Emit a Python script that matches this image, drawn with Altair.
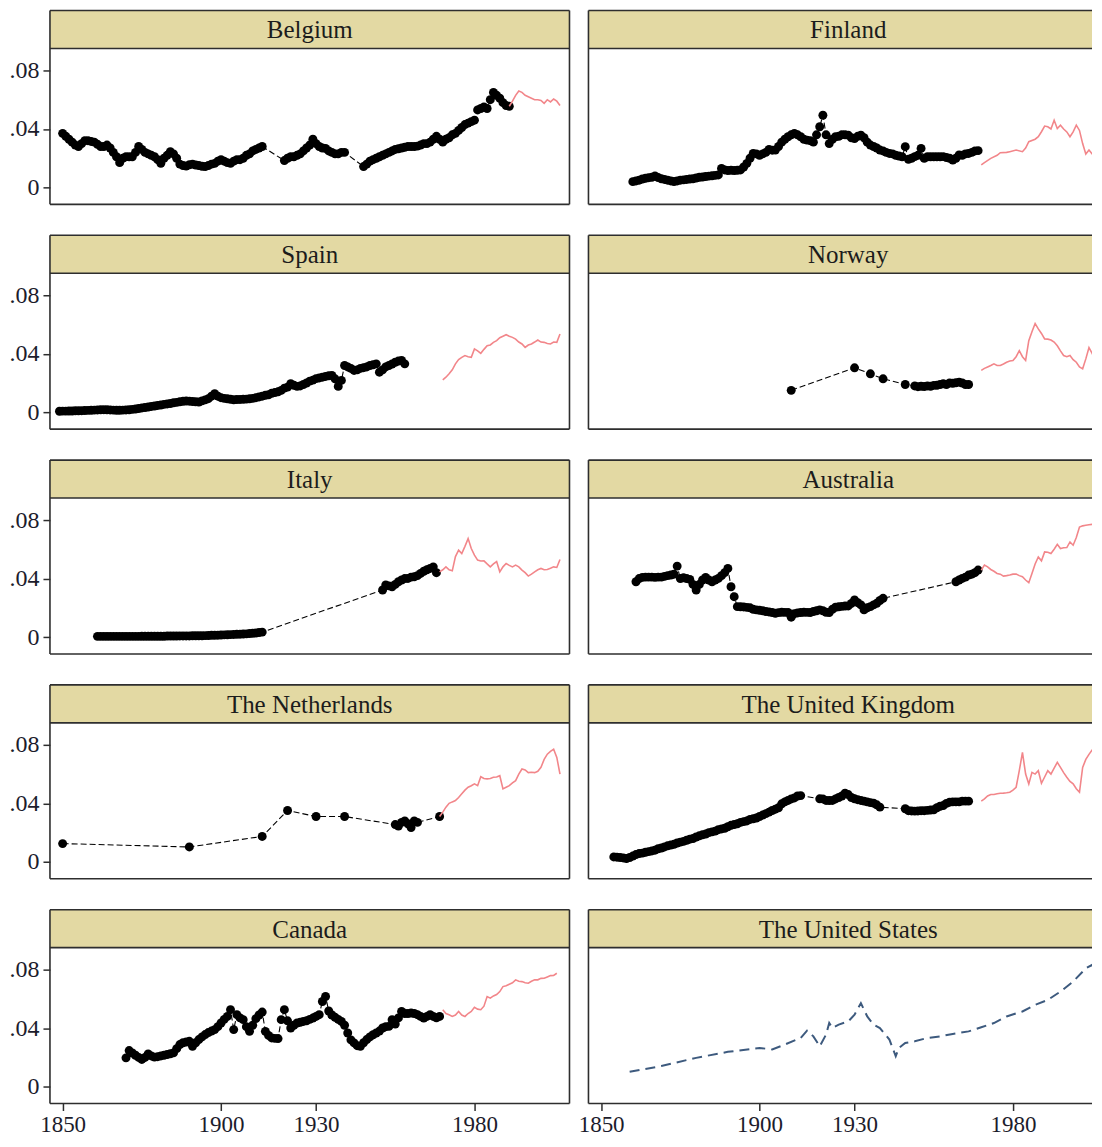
import altair as alt
import pandas as pd

FONT = "Liberation Serif"
W_LEFT = 520
W_RIGHT = 504
PLOT_H = 156
HEAD_H = 38
FULL_H = PLOT_H + HEAD_H
Y_DOMAIN = [-0.0115, 0.095]
X_START = 1846
X_END_LEFT = 2010
X_END_RIGHT = 1846 + 164 * W_RIGHT / W_LEFT
HEAD_FILL = "#e3d9a3"
EDGE = "#2e2e2e"
PINK = "#f2868a"
NAVY = "#3d5a7e"
X_TICKS = [1850, 1900, 1930, 1980]
Y_TICKS = [0, 0.04, 0.08]

# ---------------- data ----------------
belgium_black_years = list(range(1850, 1914)) + list(range(1920, 1940)) + list(range(1945, 1992))
belgium_black_vals = [.037, .035, .033, .031, .029, .028, .030, .032, .032, .0315,
                      .031, .0295, .028, .028, .029, .027, .024, .021, .017, .020,
                      .021, .021, .021, .024, .028, .026, .024, .023, .022, .021,
                      .019, .0165, .020, .022, .0245, .023, .020, .016, .015, .0147,
                      .0155, .016, .0154, .015, .0145, .0143, .015, .016, .0165, .018,
                      .019, .018, .017, .0165, .018, .019, .019, .020, .022, .023,
                      .025, .026, .027, .028,
                      .0184, .020, .021, .021, .022, .023, .025, .027, .029, .033,
                      .030, .028, .027, .0267, .025, .024, .023, .023, .024, .024,
                      .0143, .016, .018, .019, .020, .021, .022, .023, .024, .025,
                      .026, .0265, .027, .0275, .028, .028, .028, .0283, .029, .030,
                      .030, .031, .033, .035, .033, .031, .033, .034, .036, .037,
                      .039, .041, .043, .044, .045, .046, .053, .054, .055, .054,
                      .060, .065, .063, .061, .058, .056, .0555]
belgium_pink_years = list(range(1991, 2008))
belgium_pink_vals = [.0555, .059, .063, .066, .065, .063, .062, .061, .060, .060, .0595, .0575, .060, .0585, .0605, .059, .056]

finland_black_years = list(range(1860, 1970))
finland_black_vals = [.004, .0045, .005, .0058, .0063, .0067, .007, .0079, .0068, .006,
                      .0055, .005, .0045, .0041, .0045, .005, .0052, .0055, .0058, .006,
                      .0065, .007, .0072, .0075, .0078, .008, .0083, .0086, .013, .012,
                      .0116, .0118, .0116, .0118, .012, .014, .0165, .020, .0233, .023,
                      .022, .023, .024, .026, .0255, .0256, .028, .031, .033, .0347,
                      .036, .037, .036, .0347, .033, .0324, .032, .031, .036, .0415,
                      .0494, .036, .030, .033, .0347, .035, .036, .036, .0358, .034,
                      .0335, .035, .0358, .034, .031, .029, .028, .027, .0256, .025,
                      .024, .0233, .023, .022, .0215, .021, .0279, .0193, .020, .0211,
                      .022, .0267, .0199, .021, .021, .021, .021, .021, .0211, .0205,
                      .020, .0188, .020, .0222, .022, .023, .0233, .024, .025, .0252]
finland_pink_years = [1970, 1971, 1973, 1975, 1976, 1978, 1979, 1981, 1983, 1984, 1985, 1987, 1988, 1989, 1990, 1991,
                      1992, 1993, 1994, 1995, 1996, 1997, 1998, 1999, 2000, 2001, 2002, 2003, 2004, 2005, 2006, 2007, 2008]
finland_pink_vals = [.0154, .017, .0199, .022, .0238, .024, .0245, .0256, .0245, .027, .0313, .033, .0347, .0381, .042, .0415,
                     .040, .046, .0403, .0426, .040, .038, .0347, .038, .0426, .039, .030, .0229, .0256, .0229, .027, .032, .034]

spain_black_years = list(range(1849, 1959))
spain_black_vals = [.0007, .0008, .0008, .0009, .0009, .001, .001, .0011, .0012, .0013,
                    .0014, .0015, .0016, .0017, .0018, .0017, .0016, .0015, .0014, .0014,
                    .0015, .0016, .0017, .002, .0022, .0026, .003, .0033, .0036, .004,
                    .0043, .0047, .005, .0054, .0057, .006, .0065, .0068, .0072, .0075,
                    .0077, .0076, .0074, .0072, .007, .0078, .0085, .0093, .011, .0127,
                    .011, .010, .0095, .0092, .0089, .0086, .0087, .0088, .0089, .009,
                    .0092, .0095, .010, .0105, .011, .0116, .012, .013, .0135, .014,
                    .015, .0165, .0172, .0195, .0185, .0177, .018, .019, .020, .0213,
                    .022, .023, .0235, .024, .0245, .025, .0252, .0229, .0177, .0218,
                    .032, .031, .030, .0286, .029, .030, .0305, .031, .032, .0325,
                    .0331, .0274, .029, .031, .032, .033, .0342, .035, .0354, .0331]
spain_pink_years = list(range(1970, 2008))
spain_pink_vals = [.0222, .024, .0263, .029, .0331, .036, .0375, .0388, .038, .0376, .0433, .042, .0403, .043, .0455, .046,
                   .0478, .049, .051, .052, .053, .052, .0512, .050, .048, .0467, .0444, .046, .0467, .048, .0494, .048,
                   .0478, .047, .0467, .048, .0478, .0535]

norway_black_years = [1910, 1930, 1935, 1939, 1946, 1949, 1950, 1951, 1952, 1953, 1954, 1955, 1956, 1957, 1958, 1959,
                      1960, 1961, 1962, 1963, 1964, 1965, 1966]
norway_black_vals = [.015, .0304, .0263, .0229, .019, .018, .0175, .0178, .0176, .018, .0178, .0184, .0185, .019, .0195, .019,
                     .020, .0198, .0202, .0206, .020, .019, .019]
norway_pink_years = list(range(1970, 2009))
norway_pink_vals = [.0286, .030, .031, .032, .0331, .032, .032, .033, .0342, .035, .0354, .038, .0421, .038, .0354, .0489,
                    .055, .0607, .057, .0539, .0501, .050, .0494, .048, .0455, .042, .0388, .038, .0388, .036, .0342, .031,
                    .0297, .0365, .0442, .0403, .0354, .0388, .040]

italy_black_years = list(range(1861, 1914)) + list(range(1951, 1969))
italy_black_vals = [.0005, .0005, .0005, .0005, .0005, .0005, .0005, .0005, .0005, .0005,
                    .0005, .0005, .0005, .0005, .0006, .0006, .0006, .0006, .0006, .0006,
                    .0006, .0006, .0007, .0007, .0007, .0007, .0008, .0008, .0008, .0008,
                    .0009, .0009, .0009, .0009, .001, .0011, .0012, .0012, .0013, .0014,
                    .0015, .0016, .0017, .0018, .0019, .002, .0021, .0022, .0024, .0026,
                    .0028, .0031, .0034,
                    .0322, .0356, .035, .0344, .036, .0378, .039, .040, .0401, .041,
                    .0412, .042, .0435, .045, .046, .0469, .048, .044]
italy_pink_years = list(range(1969, 2008))
italy_pink_vals = [.0446, .046, .048, .046, .0453, .055, .0594, .0571, .062, .0673, .0605, .056, .0526, .052, .0521, .050,
                   .048, .050, .0516, .0446, .048, .0503, .049, .048, .0492, .048, .0458, .044, .0417, .043, .0446, .046,
                   .0469, .046, .0462, .047, .048, .0476, .053]

australia_black_years = list(range(1861, 1940)) + list(range(1962, 1970))
australia_black_vals = [.0378, .040, .0408, .041, .041, .041, .0408, .041, .041, .0415,
                        .042, .0424, .043, .0485, .040, .0405, .040, .0394, .036, .0322,
                        .036, .039, .0408, .039, .0378, .039, .0401, .042, .044, .0469,
                        .0344, .0276, .0208, .0207, .0206, .0203, .020, .019, .0186, .0183,
                        .018, .0175, .0172, .0168, .0163, .0167, .017, .0169, .0168, .0136,
                        .016, .0165, .0168, .017, .0169, .0168, .0175, .018, .0186, .018,
                        .017, .0168, .019, .0204, .0207, .021, .0212, .0213, .023, .0254,
                        .0235, .022, .0186, .020, .0208, .022, .0231, .025, .0265,
                        .0378, .039, .0401, .041, .0424, .043, .044, .0458]
australia_pink_years = list(range(1970, 2008))
australia_pink_vals = [.0458, .0492, .048, .0462, .045, .0435, .043, .0417, .042, .0424, .043, .0431, .042, .0412, .039, .0372,
                       .0435, .050, .0548, .0521, .0582, .058, .0571, .060, .0634, .0605, .061, .0612, .065, .0628, .068, .0752,
                       .076, .0764, .0768, .077, .079, .0793]

netherlands_black_years = [1850, 1890, 1913, 1921, 1930, 1939, 1955, 1956, 1957, 1958, 1959, 1960, 1961, 1962, 1969]
netherlands_black_vals = [.0125, .0102, .0174, .0351, .031, .031, .0255, .0245, .027, .028, .026, .0235, .028, .027, .031]
netherlands_pink_years = list(range(1969, 2008))
netherlands_pink_vals = [.031, .034, .0374, .040, .041, .0419, .044, .0465, .049, .051, .052, .0533, .0521, .0582, .057, .0567,
                         .057, .0578, .058, .0589, .0499, .051, .0521, .054, .0555, .060, .0635, .0628, .061, .0612, .061, .0619,
                         .0646, .070, .0736, .0755, .077, .0714, .060]

uk_black_years = list(range(1854, 1914)) + list(range(1919, 1939)) + list(range(1946, 1967))
uk_black_vals = [.0034, .0032, .003, .0027, .0023, .003, .004, .005, .0057, .006,
                 .0066, .007, .0075, .008, .009, .0095, .0102, .011, .0115, .012,
                 .0129, .0135, .014, .0148, .0155, .016, .017, .0178, .0185, .019,
                 .020, .0205, .021, .022, .0225, .023, .024, .025, .0255, .026,
                 .027, .0275, .028, .029, .0295, .030, .031, .032, .033, .034,
                 .0351, .036, .037, .0397, .041, .042, .043, .0437, .045, .0453,
                 .0431, .043, .042, .0419, .042, .043, .044, .045, .0469, .046,
                 .044, .0431, .0425, .042, .0415, .041, .0405, .0401, .039, .0374,
                 .0363, .035, .0348, .0347, .0348, .035, .035, .0352, .0354, .0356,
                 .037, .038, .0385, .040, .0408, .041, .041, .041, .0415, .0415, .0415]
uk_pink_years = list(range(1970, 2009))
uk_pink_vals = [.0415, .043, .045, .046, .046, .0465, .0469, .047, .0472, .0476, .049, .051, .0623, .0748, .060, .0533,
                .0612, .060, .0623, .0537, .058, .0623, .060, .064, .068, .0646, .061, .0578, .055, .0533, .050, .0476,
                .0646, .070, .0735, .0765, .080, .0827, .0838]

canada_black_years = list(range(1870, 1970))
canada_black_vals = [.0197, .0247, .023, .0215, .020, .0186, .020, .0224, .021, .0202,
                     .0205, .021, .0215, .022, .0225, .0231, .026, .0288, .030, .0305,
                     .031, .0276, .030, .0322, .034, .0356, .037, .038, .039, .041,
                     .0435, .046, .048, .0526, .039, .0492, .047, .0458, .041, .0378,
                     .042, .0465, .049, .051, .0378, .035, .0333, .033, .0329, .0458,
                     .0526, .045, .0401, .042, .0435, .044, .0446, .045, .046, .0469,
                     .048, .0492, .0582, .0616, .0517, .049, .0474, .046, .0446, .042,
                     .0367, .032, .0299, .028, .0276, .030, .0322, .034, .0355, .0367,
                     .038, .0401, .041, .0412, .0458, .0428, .047, .0514, .050, .050,
                     .0503, .050, .0492, .048, .0469, .048, .0492, .048, .047, .048]
canada_pink_years = list(range(1970, 2007))
canada_pink_vals = [.0526, .050, .0492, .048, .049, .0514, .049, .048, .050, .0514, .0542, .053, .0526, .055, .0616, .0605,
                    .062, .063, .065, .0684, .069, .070, .071, .073, .072, .0718, .071, .0707, .072, .073, .073, .074,
                    .0741, .075, .0759, .076, .0775]

us_years = [1859, 1869, 1880, 1890, 1900, 1904, 1908, 1913, 1915, 1917, 1919, 1921, 1922, 1923, 1925, 1928,
            1930, 1932, 1934, 1936, 1938, 1941, 1943, 1944, 1946, 1949, 1953, 1957, 1961, 1966, 1970, 1974,
            1978, 1983, 1987, 1991, 1995, 1999, 2003, 2005, 2007, 2008]
us_vals = [.0102, .0141, .0197, .0238, .0265, .0254, .0288, .0333, .0383, .0344, .0276, .0356, .0435, .0401, .0424, .0446,
           .0492, .0571, .048, .0424, .0401, .0322, .0208, .0265, .0299, .031, .0333, .0344, .036, .0378, .0406, .0435,
           .048, .0514, .0559, .0593, .065, .0718, .0809, .0832, .0809, .0798]


def frame(years, vals):
    return pd.DataFrame({"year": list(years), "v": list(vals)})


def border_rules(w, col):
    one = alt.Chart(pd.DataFrame({"k": [0]}))
    st = dict(color=EDGE, strokeWidth=1.6)
    out = [
        one.mark_rule(**st).encode(x=alt.value(0), x2=alt.value(w), y=alt.value(0)),
        one.mark_rule(**st).encode(x=alt.value(0), x2=alt.value(w), y=alt.value(HEAD_H)),
        one.mark_rule(**st).encode(x=alt.value(0), x2=alt.value(w), y=alt.value(FULL_H)),
        one.mark_rule(**st).encode(x=alt.value(0), y=alt.value(0), y2=alt.value(FULL_H)),
    ]
    if col == 0:
        out.append(one.mark_rule(**st).encode(x=alt.value(w), y=alt.value(0), y2=alt.value(FULL_H)))
    return out


def panel(name, col, bottom, black=None, pink=None, us=None):
    w = W_LEFT if col == 0 else W_RIGHT
    xend = X_END_LEFT if col == 0 else X_END_RIGHT
    if bottom:
        xaxis = alt.Axis(values=X_TICKS, format="d", title=None, domain=False, grid=False,
                         tickSize=7, tickWidth=1.5, tickColor=EDGE, labelFont=FONT, labelFontSize=23,
                         labelColor="#1c1c2c", labelPadding=3, labelFlush=False, labelOverlap=False)
    else:
        xaxis = None
    if col == 0:
        yaxis = alt.Axis(values=Y_TICKS, title=None, domain=False, grid=False,
                         tickSize=7, tickWidth=1.5, tickColor=EDGE, labelFont=FONT, labelFontSize=24,
                         labelColor="#1c1c2c", labelPadding=4, labelFlush=False, labelOverlap=False,
                         labelExpr="datum.value == 0 ? '0' : replace(format(datum.value, '.2f'), '0.', '.')")
    else:
        yaxis = None
    xenc = alt.X("year:Q", scale=alt.Scale(domain=[X_START, xend], nice=False, zero=False), axis=xaxis)
    yenc = alt.Y("v:Q", scale=alt.Scale(domain=Y_DOMAIN, range=[FULL_H, HEAD_H], nice=False, zero=False),
                 axis=yaxis)

    head = alt.Chart(pd.DataFrame({"name": [name]}))
    layers = [
        head.mark_rect(color=HEAD_FILL).encode(
            x=alt.value(0), x2=alt.value(w), y=alt.value(0), y2=alt.value(HEAD_H)),
        head.mark_text(font=FONT, fontSize=25, color="#1c1c1c", baseline="alphabetic", align="center").encode(
            x=alt.value(W_LEFT / 2), y=alt.value(28), text="name:N"),
    ]
    if black is not None:
        bd = frame(*black)
        layers.append(alt.Chart(bd).mark_line(color="black", strokeWidth=1.1, strokeDash=[6, 3], clip=True)
                      .encode(x=xenc, y=yenc))
        layers.append(alt.Chart(bd).mark_circle(color="black", size=80, opacity=1, clip=True)
                      .encode(x=xenc, y=yenc))
    if pink is not None:
        layers.append(alt.Chart(frame(*pink)).mark_line(color=PINK, strokeWidth=1.6, clip=True)
                      .encode(x=xenc, y=yenc))
    if us is not None:
        layers.append(alt.Chart(frame(*us)).mark_line(color=NAVY, strokeWidth=2, strokeDash=[10, 6], clip=True)
                      .encode(x=xenc, y=yenc))
    layers += border_rules(w, col)
    return alt.layer(*layers).properties(width=w, height=FULL_H)


panels = [
    panel("Belgium", 0, False, (belgium_black_years, belgium_black_vals), (belgium_pink_years, belgium_pink_vals)),
    panel("Finland", 1, False, (finland_black_years, finland_black_vals), (finland_pink_years, finland_pink_vals)),
    panel("Spain", 0, False, (spain_black_years, spain_black_vals), (spain_pink_years, spain_pink_vals)),
    panel("Norway", 1, False, (norway_black_years, norway_black_vals), (norway_pink_years, norway_pink_vals)),
    panel("Italy", 0, False, (italy_black_years, italy_black_vals), (italy_pink_years, italy_pink_vals)),
    panel("Australia", 1, False, (australia_black_years, australia_black_vals), (australia_pink_years, australia_pink_vals)),
    panel("The Netherlands", 0, False, (netherlands_black_years, netherlands_black_vals), (netherlands_pink_years, netherlands_pink_vals)),
    panel("The United Kingdom", 1, False, (uk_black_years, uk_black_vals), (uk_pink_years, uk_pink_vals)),
    panel("Canada", 0, True, (canada_black_years, canada_black_vals), (canada_pink_years, canada_pink_vals)),
    panel("The United States", 1, True, us=(us_years, us_vals)),
]

chart = alt.concat(
    *panels, columns=2, spacing={"row": 31, "column": 19}, bounds="flush"
).properties(
    padding={"left": 0, "top": 0, "right": 0, "bottom": 0}
).configure_view(stroke="transparent")

chart.save("out.html", embed_options={"renderer": "svg", "actions": False})
